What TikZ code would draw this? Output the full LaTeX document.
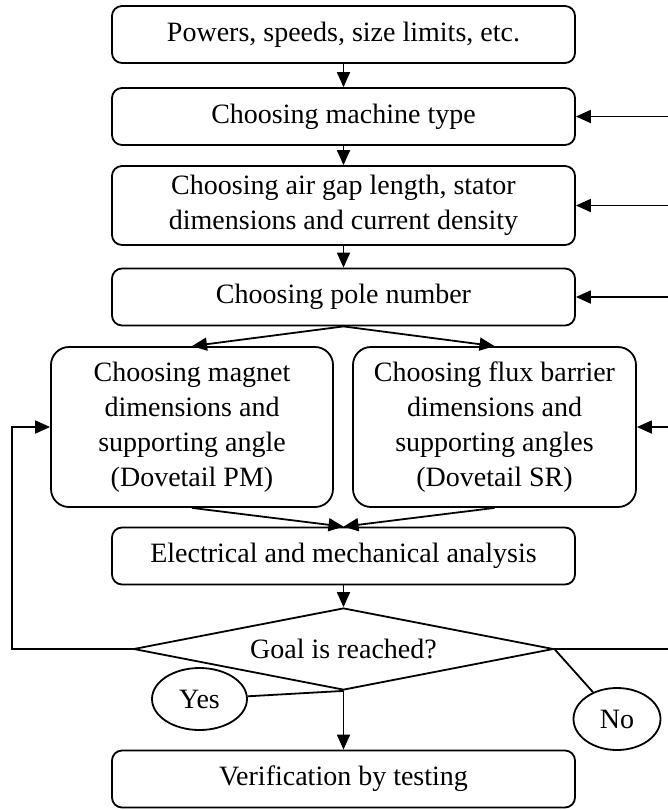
\documentclass[tikz,border=0pt]{standalone}
\usepackage{fontspec}
\setmainfont{Liberation Serif}
\usetikzlibrary{shapes.geometric,arrows.meta}

\begin{document}
\begin{tikzpicture}[x=0.5pt,y=-0.5pt,line width=0.9pt,
  font=\fontsize{14}{17.5}\selectfont,
  box/.style={draw,rounded corners=5pt,minimum width=231.5pt,minimum height=28.5pt,align=center,inner sep=0pt},
  bigbox/.style={draw,rounded corners=9pt,minimum height=80pt,align=center,inner sep=0pt},
  answer/.style={draw,ellipse,minimum height=31pt,inner sep=0pt},
  arr/.style={-{Triangle[length=7.5pt,width=6.5pt]}}]
  \clip (0,0) rectangle (668,810);   %page size
  % main column
  \node[box] at (343.5,34.5) (input) {Powers, speeds, size limits, etc.};
  \node[box] at (343.5,116.5) (mtype) {Choosing machine type};
  \node[box,minimum height=39.5pt] at (343.5,205.5) (gap) {Choosing air gap length, stator\\dimensions and current density};
  \node[box] at (343.5,297) (poles) {Choosing pole number};
  \node[bigbox,minimum width=141pt] at (192,427) (pm) {Choosing magnet\\dimensions and\\supporting angle\\(Dovetail PM)};
  \node[bigbox,minimum width=141.5pt] at (494.5,427) (sr) {Choosing flux barrier\\dimensions and\\supporting angles\\(Dovetail SR)};
  \node[box] at (343.5,556) (analysis) {Electrical and mechanical analysis};
  \node[draw,diamond,aspect=5,inner sep=0pt,minimum width=210pt,minimum height=41pt] at (343.5,649) (goal) {Goal is reached?};
  \node[box] at (343.5,779) (test) {Verification by testing};
  \node[answer,minimum width=47.5pt] at (199.5,699) (yes) {Yes};
  \node[answer,minimum width=43.5pt] at (617,719) (no) {No};
  % forward arrows
  \draw[arr] (input) -- (mtype);
  \draw[arr] (mtype) -- (gap);
  \draw[arr] (gap) -- (poles);
  \draw[arr] (poles.south) -- (pm.north);
  \draw[arr] (poles.south) -- (sr.north);
  \draw[arr] (pm.south) -- (analysis.north);
  \draw[arr] (sr.south) -- (analysis.north);
  \draw[arr] (analysis) -- (goal);
  \draw[arr] (goal.south) -- (test);
  \draw (yes) -- (goal.south);
  \draw (goal.east) -- (no);
  % feedback loops
  \coordinate (lt) at (12,649);
  \coordinate (rt) at (690,649);
  \draw[arr] (goal.west) -- (lt) |- (pm.west);
  \draw (goal.east) -- (rt);
  \draw[arr] (rt) |- (sr.east);
  \draw[arr] (rt) |- (poles.east);
  \draw[arr] (rt) |- (gap.east);
  \draw[arr] (rt) |- (mtype.east);
\end{tikzpicture}
\end{document}
